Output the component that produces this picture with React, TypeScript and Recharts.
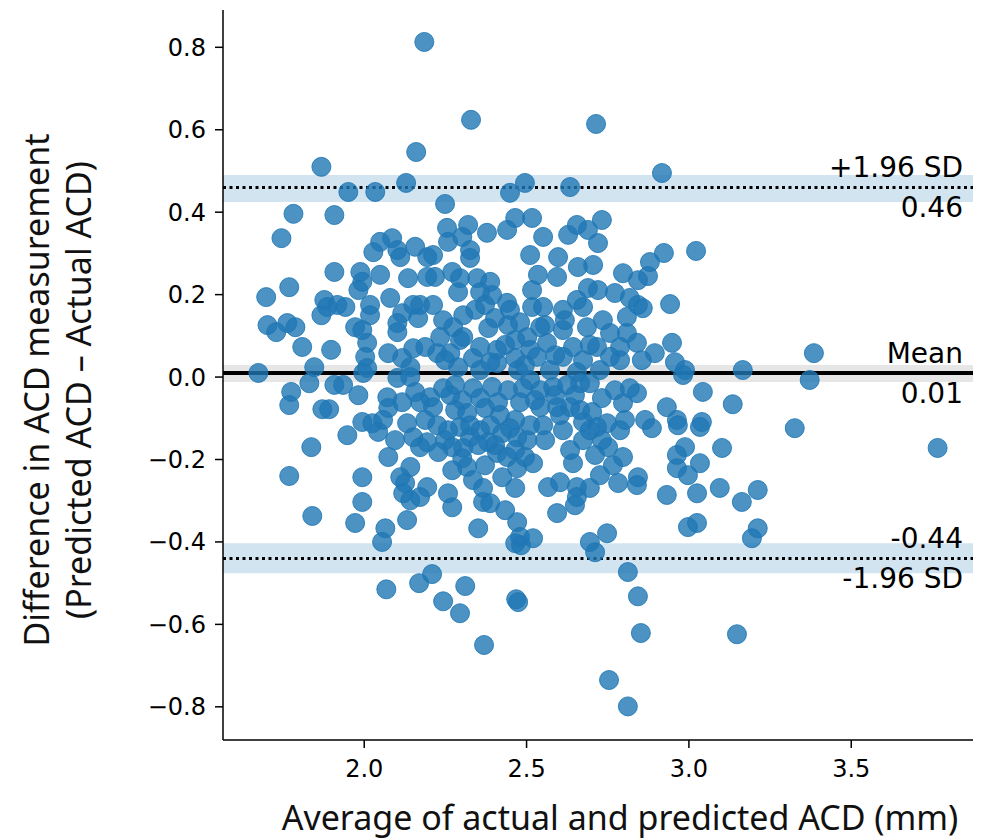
import React from 'react';
import { ScatterChart, Scatter, XAxis, YAxis, ReferenceLine, ReferenceArea } from 'recharts';

const X_VALUES: number[] = [
  1.868, 1.951, 2.034, 2.129, 2.160, 2.185, 2.329, 2.449, 2.495, 2.634, 2.714, 2.917,
  3.022, 2.923, 2.880, 2.874, 2.843, 2.942, 2.843, 2.858, 2.840, 2.948, 2.895, 2.855, 2.957, 2.988, 3.166, 3.385,
  2.982, 3.372, 2.840, 3.043, 3.135, 2.932, 2.865, 2.886, 2.963, 2.966, 3.040, 3.034, 3.326, 3.766, 3.102, 2.988,
  2.963, 3.034, 2.963, 2.997, 2.843, 2.840, 2.932, 3.025, 3.095, 3.163, 3.212, 2.997, 3.025, 3.212, 3.194,
  2.483, 2.711, 2.068, 2.169, 2.209, 2.311, 2.243, 2.295, 2.369, 2.474, 2.468, 2.812, 2.843, 2.852, 3.148, 2.754, 2.812,
  1.674, 1.831, 1.775, 1.769, 1.871, 1.892, 1.837, 1.769, 1.840, 1.908, 1.782, 1.908, 1.745, 1.908, 1.769, 1.698,
  1.877, 1.886, 1.868, 1.702, 1.729, 1.763, 1.788, 1.809, 1.898, 1.846,
  2.049, 2.086, 2.028, 2.102, 2.157, 2.111, 2.194, 1.988, 1.994, 2.049, 2.135, 2.194, 1.982, 2.080, 1.917, 1.942,
  2.018, 2.018, 2.117, 2.151, 2.172, 2.166, 1.972, 1.994, 2.102, 2.102, 2.009, 2.003, 2.074, 2.117, 2.151, 2.188, 2.142, 2.009,
  2.249, 2.255, 2.320, 2.378, 2.440, 2.465, 2.517, 2.258, 2.302, 2.326, 2.326, 2.212, 2.511, 2.218, 2.271, 2.295,
  2.348, 2.388, 2.289, 2.357, 2.394, 2.440, 2.517, 2.517, 2.212, 2.243, 2.305, 2.342, 2.274, 2.382, 2.443, 2.234,
  2.305, 2.357, 2.265, 2.335, 2.409, 2.465, 2.502, 2.409, 2.465, 2.511, 2.225, 2.289, 2.357, 2.474,
  2.551, 2.628, 2.655, 2.689, 2.732, 2.720, 2.597, 2.658, 2.705, 2.535, 2.594, 2.797, 2.689, 2.772, 2.818, 2.655,
  2.551, 2.612, 2.674, 2.735, 2.809, 2.542, 2.612, 2.686, 2.757, 2.809, 2.563, 2.643, 2.717, 2.788, 2.532, 2.612,
  2.674, 2.757, 2.572, 2.655, 2.726,
  1.997, 2.102, 2.142, 1.935, 1.982, 2.071, 2.074, 2.117, 2.172, 2.203, 1.994, 2.025, 2.058, 2.043, 1.948, 2.132,
  2.151, 2.194, 2.172, 2.074, 2.142, 1.994, 2.111, 2.126, 2.194, 2.120, 2.142, 2.172, 1.994, 2.132, 1.972, 2.065, 2.055,
  2.243, 2.335, 2.302, 2.212, 2.280, 2.317, 2.372, 2.412, 2.443, 2.489, 2.480, 2.511, 2.394, 2.225, 2.258, 2.295,
  2.326, 2.357, 2.382, 2.425, 2.471, 2.502, 2.449, 2.271, 2.305, 2.351, 2.228, 2.409, 2.465, 2.495, 2.302, 2.440,
  2.271, 2.317, 2.372, 2.471, 2.335, 2.425, 2.258, 2.366, 2.465, 2.271, 2.366, 2.388, 2.434, 2.351, 2.471, 2.480, 2.465,
  2.542, 2.582, 2.625, 2.665, 2.695, 2.732, 2.797, 2.818, 2.542, 2.594, 2.634, 2.665, 2.702, 2.551, 2.612, 2.674,
  2.717, 2.748, 2.674, 2.732, 2.751, 2.520, 2.643, 2.797, 2.766, 2.726, 2.782, 2.603, 2.566, 2.655, 2.695, 2.655,
  2.649, 2.594, 2.748, 2.695, 2.520,
  2.249, 2.388, 2.434, 2.495, 2.295, 2.403, 2.480, 2.372, 2.449,
  2.265, 2.357, 2.418, 2.465, 2.511, 2.249, 2.388, 2.526, 2.326, 2.280, 2.403,
  2.588, 2.695, 2.788, 2.618, 2.720, 2.557,
  2.588, 2.649, 2.772, 2.603, 2.695, 2.788, 2.557, 2.803, 2.634, 2.711,
  2.095, 2.188, 2.157,
];

const Y_VALUES: number[] = [
  0.510, 0.449, 0.449, 0.471, 0.546, 0.813, 0.624, 0.447, 0.471, 0.461, 0.614, 0.495,
  0.306, 0.301, 0.279, 0.245, 0.235, 0.177, 0.175, 0.167, 0.083, 0.083, 0.058, 0.041, 0.036, 0.017, 0.017, 0.058,
  0.005, -0.007, -0.039, -0.036, -0.066, -0.073, -0.104, -0.124, -0.104, -0.117, -0.109, -0.121, -0.124, -0.172, -0.172, -0.170,
  -0.189, -0.209, -0.221, -0.238, -0.243, -0.262, -0.286, -0.282, -0.269, -0.303, -0.274, -0.364, -0.354, -0.367, -0.391,
  -0.408, -0.425, -0.515, -0.500, -0.478, -0.507, -0.544, -0.573, -0.650, -0.546, -0.539, -0.473, -0.532, -0.621, -0.624, -0.735, -0.799,
  0.010, -0.015, -0.036, -0.068, -0.078, -0.078, -0.170, -0.240, -0.337, -0.019, 0.396, 0.393, 0.337, 0.255, 0.218, 0.194,
  0.187, 0.170, 0.150, 0.126, 0.109, 0.131, 0.121, 0.073, 0.066, 0.024,
  0.328, 0.337, 0.303, 0.308, 0.316, 0.291, 0.291, 0.255, 0.231, 0.248, 0.240, 0.243, 0.211, 0.192, 0.175, 0.170,
  0.175, 0.150, 0.155, 0.175, 0.175, 0.143, 0.121, 0.114, 0.131, 0.109, 0.083, 0.049, 0.058, 0.046, 0.070, 0.073, 0.024, 0.022,
  0.420, 0.362, 0.369, 0.350, 0.357, 0.386, 0.386, 0.328, 0.340, 0.308, 0.289, 0.296, 0.296, 0.243, 0.255, 0.240,
  0.240, 0.231, 0.206, 0.206, 0.199, 0.180, 0.211, 0.170, 0.175, 0.138, 0.150, 0.163, 0.121, 0.119, 0.126, 0.097,
  0.097, 0.073, 0.058, 0.046, 0.066, 0.090, 0.097, 0.034, 0.046, 0.066, 0.058, 0.024, 0.017, 0.017,
  0.340, 0.345, 0.369, 0.357, 0.381, 0.325, 0.291, 0.267, 0.272, 0.248, 0.243, 0.252, 0.216, 0.204, 0.192, 0.187,
  0.170, 0.163, 0.170, 0.138, 0.146, 0.121, 0.114, 0.121, 0.107, 0.107, 0.083, 0.073, 0.073, 0.073, 0.049, 0.049,
  0.041, 0.049, 0.017, 0.012, 0.017,
  0.010, -0.002, 0.000, -0.019, -0.044, -0.049, -0.075, -0.061, -0.061, -0.049, -0.109, -0.112, -0.104, -0.133, -0.141, -0.112,
  -0.146, -0.158, -0.170, -0.194, -0.218, -0.243, -0.243, -0.257, -0.267, -0.282, -0.299, -0.291, -0.303, -0.347, -0.354, -0.367, -0.400,
  -0.027, -0.027, -0.056, -0.073, -0.080, -0.087, -0.075, -0.061, -0.032, -0.027, -0.061, -0.007, -0.024, -0.117, -0.129, -0.121,
  -0.146, -0.129, -0.158, -0.136, -0.146, -0.153, -0.124, -0.170, -0.172, -0.165, -0.182, -0.184, -0.177, -0.194, -0.197, -0.194,
  -0.226, -0.218, -0.214, -0.221, -0.250, -0.243, -0.282, -0.269, -0.269, -0.316, -0.303, -0.306, -0.323, -0.367, -0.352, -0.388, -0.403,
  -0.032, -0.024, -0.019, -0.015, -0.015, -0.051, -0.063, -0.027, -0.073, -0.073, -0.073, -0.080, -0.085, -0.117, -0.129, -0.109,
  -0.121, -0.112, -0.153, -0.153, -0.170, -0.209, -0.209, -0.194, -0.214, -0.238, -0.257, -0.255, -0.267, -0.267, -0.269, -0.291,
  -0.311, -0.330, -0.379, -0.400, -0.391,
  0.041, 0.036, 0.078, 0.029, 0.090, 0.143, 0.133, 0.175, 0.163,
  -0.044, -0.051, -0.092, -0.104, -0.117, -0.153, -0.117, -0.056, -0.117, -0.019, -0.165,
  0.053, 0.078, 0.041, 0.138, 0.211, 0.126,
  -0.044, -0.044, -0.032, -0.092, -0.129, -0.129, -0.153, -0.104, -0.177, -0.189,
  -0.153, -0.104, -0.036,
];

const X_TICKS = [2.0, 2.5, 3.0, 3.5];
const Y_TICKS = [-0.8, -0.6, -0.4, -0.2, 0.0, 0.2, 0.4, 0.6, 0.8];
const X_DOMAIN = [1.565, 3.875];
const Y_DOMAIN = [-0.8805, 0.8905];

const MEAN_DIFF = 0.01;
const UPPER_LOA = 0.46;
const LOWER_LOA = -0.44;
const UPPER_CI = [0.425, 0.49];
const LOWER_CI = [-0.476, -0.403];
const MEAN_CI = [-0.012, 0.029];

const LABEL_UPPER = '+1.96 SD';
const LABEL_UPPER_VAL = '0.46';
const LABEL_MEAN = 'Mean';
const LABEL_MEAN_VAL = '0.01';
const LABEL_LOWER_VAL = '-0.44';
const LABEL_LOWER = '-1.96 SD';

const X_TITLE = 'Average of actual and predicted ACD (mm)';
const Y_TITLE_1 = 'Difference in ACD measurement';
const Y_TITLE_2 = '(Predicted ACD – Actual ACD)';

const points = X_VALUES.map((x, i) => ({ x, y: Y_VALUES[i] }));

const TICK_FONT = "'DejaVu Sans', sans-serif";
const TITLE_FONT = "'Noto Sans', 'Open Sans', sans-serif";

const fmtY = (v: number) => (v < 0 ? '\u2212' + Math.abs(v).toFixed(1) : v.toFixed(1));
const fmtX = (v: number) => v.toFixed(1);

const Dot = (props: any) => {
  const { cx, cy } = props;
  if (cx == null || cy == null) return null;
  return (
    <circle cx={cx} cy={cy} r={9.5} fill="#1f77b4" fillOpacity={0.8} stroke="#1f77b4" strokeOpacity={0.85} strokeWidth={1} />
  );
};

const annot = (value: string, position: any) => ({
  value,
  position,
  offset: 10,
  fontSize: 28,
  fontFamily: TICK_FONT,
  fill: '#000',
});

export default function App() {
  return (
    <div style={{ position: 'absolute', left: 0, top: 0, width: 982, height: 839, background: '#fff', overflow: 'hidden' }}>
      <ScatterChart width={982} height={839} margin={{ top: 10, right: 9, bottom: 0, left: 0 }}>
        <XAxis
          type="number"
          dataKey="x"
          domain={X_DOMAIN}
          ticks={X_TICKS}
          tickFormatter={fmtX}
          allowDataOverflow
          height={99}
          tickSize={8}
          tickMargin={12}
          axisLine={{ stroke: '#000', strokeWidth: 1.5 }}
          tickLine={{ stroke: '#000', strokeWidth: 1.5 }}
          tick={{ fontSize: 24, fontFamily: TICK_FONT, fill: '#000' }}
        />
        <YAxis
          type="number"
          dataKey="y"
          domain={Y_DOMAIN}
          ticks={Y_TICKS}
          tickFormatter={fmtY}
          allowDataOverflow
          width={223}
          tickSize={8}
          tickMargin={9}
          axisLine={{ stroke: '#000', strokeWidth: 1.5 }}
          tickLine={{ stroke: '#000', strokeWidth: 1.5 }}
          tick={{ fontSize: 24, fontFamily: TICK_FONT, fill: '#000' }}
        />
        <ReferenceArea y1={UPPER_CI[0]} y2={UPPER_CI[1]} fill="#1f77b4" fillOpacity={0.2} stroke="none" ifOverflow="hidden" />
        <ReferenceArea y1={LOWER_CI[0]} y2={LOWER_CI[1]} fill="#1f77b4" fillOpacity={0.2} stroke="none" ifOverflow="hidden" />
        <ReferenceArea y1={MEAN_CI[0]} y2={MEAN_CI[1]} fill="#808080" fillOpacity={0.2} stroke="none" ifOverflow="hidden" />
        <Scatter data={points} shape={Dot} isAnimationActive={false} />
        <ReferenceLine y={MEAN_DIFF} stroke="#000" strokeWidth={4} label={annot(LABEL_MEAN, 'insideBottomRight')} />
        <ReferenceLine y={MEAN_DIFF} stroke="none" label={annot(LABEL_MEAN_VAL, 'insideTopRight')} />
        <ReferenceLine y={UPPER_LOA} stroke="#000" strokeWidth={3} strokeDasharray="3 3.5" label={annot(LABEL_UPPER, 'insideBottomRight')} />
        <ReferenceLine y={UPPER_LOA} stroke="none" label={annot(LABEL_UPPER_VAL, 'insideTopRight')} />
        <ReferenceLine y={LOWER_LOA} stroke="#000" strokeWidth={3} strokeDasharray="3 3.5" label={annot(LABEL_LOWER_VAL, 'insideBottomRight')} />
        <ReferenceLine y={LOWER_LOA} stroke="none" label={annot(LABEL_LOWER, 'insideTopRight')} />
      </ScatterChart>
      <svg width={982} height={839} style={{ position: 'absolute', left: 0, top: 0, pointerEvents: 'none' }}>
        <text x={36} y={390} transform="rotate(-90 36 390)" textAnchor="middle" dominantBaseline="central" fontSize={34} fontFamily={TITLE_FONT} fill="#111">
          {Y_TITLE_1}
        </text>
        <text x={78} y={390} transform="rotate(-90 78 390)" textAnchor="middle" dominantBaseline="central" fontSize={34} fontFamily={TITLE_FONT} fill="#111">
          {Y_TITLE_2}
        </text>
        <text x={620} y={830} textAnchor="middle" fontSize={34} fontFamily={TITLE_FONT} fill="#111">
          {X_TITLE}
        </text>
      </svg>
    </div>
  );
}
